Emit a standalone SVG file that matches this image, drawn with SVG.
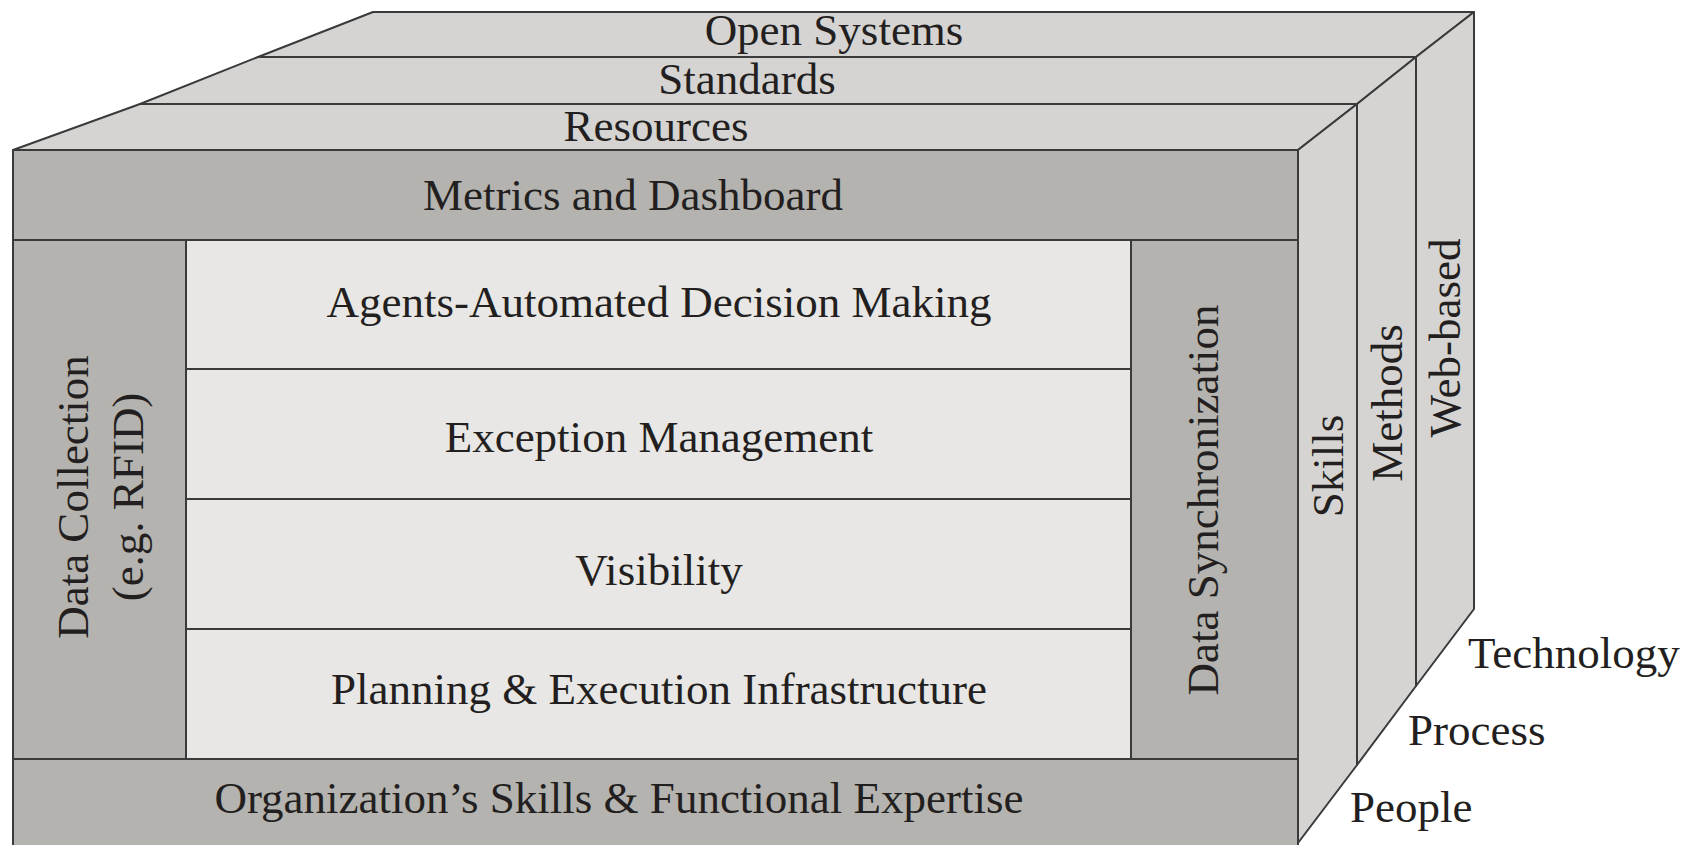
<svg xmlns="http://www.w3.org/2000/svg" width="1687" height="845" viewBox="0 0 1687 845">
<style>
.top{fill:#d5d4d2;stroke:#3a3a3a;stroke-width:2;stroke-linejoin:round}
.side{fill:#d5d4d2;stroke:#3a3a3a;stroke-width:2;stroke-linejoin:round}
.dark{fill:#b4b3af;stroke:#3a3a3a;stroke-width:2}
.light{fill:#e8e7e5;stroke:#3a3a3a;stroke-width:2}
text{font-family:"Liberation Serif","DejaVu Serif",serif;font-size:45px;fill:#231f20}
.c{text-anchor:middle}
</style>
<rect width="1687" height="845" fill="#ffffff"/>
<g id="open-systems"><polygon class="top" points="373,12 1474,12 1416,57 258,57"/><text class="c" x="834" y="45">Open Systems</text></g>
<g id="standards"><polygon class="top" points="258,57 1416,57 1357,104 140,104"/><text class="c" x="747" y="94">Standards</text></g>
<g id="resources"><polygon class="top" points="140,104 1357,104 1298,150 13,150"/><text class="c" x="656" y="141">Resources</text></g>
<g id="skills"><polygon class="side" points="1298,150 1357,104 1357,765 1298,843"/><text class="c" transform="translate(1343,466) rotate(-90)">Skills</text></g>
<g id="methods"><polygon class="side" points="1357,104 1416,57 1416,686 1357,765"/><text class="c" transform="translate(1402,403) rotate(-90)">Methods</text></g>
<g id="web-based"><polygon class="side" points="1416,57 1474,12 1474,609 1416,686"/><text class="c" transform="translate(1460,338) rotate(-90)">Web-based</text></g>
<g id="metrics"><rect class="dark" x="13" y="150" width="1285" height="90"/><text class="c" x="633" y="210">Metrics and Dashboard</text></g>
<g id="data-collection"><rect class="dark" x="13" y="240" width="173" height="519"/><text class="c" transform="translate(88,497) rotate(-90)">Data Collection</text><text class="c" transform="translate(143,497) rotate(-90)">(e.g. RFID)</text></g>
<g id="data-sync"><rect class="dark" x="1131" y="240" width="167" height="519"/><text class="c" transform="translate(1218,500) rotate(-90)">Data Synchronization</text></g>
<g id="agents"><rect class="light" x="186" y="240" width="945" height="129"/><text class="c" x="659" y="317">Agents-Automated Decision Making</text></g>
<g id="exception"><rect class="light" x="186" y="369" width="945" height="130"/><text class="c" x="659" y="452">Exception Management</text></g>
<g id="visibility"><rect class="light" x="186" y="499" width="945" height="130"/><text class="c" x="659" y="585">Visibility</text></g>
<g id="planning"><rect class="light" x="186" y="629" width="945" height="130"/><text class="c" x="659" y="704">Planning &amp; Execution Infrastructure</text></g>
<g id="organization"><rect class="dark" x="13" y="759" width="1285" height="90"/><text class="c" x="619" y="813">Organization’s Skills &amp; Functional Expertise</text></g>
<g id="connectors"></g>
<g id="labels">
<text x="1468" y="668">Technology</text>
<text x="1408" y="745">Process</text>
<text x="1350" y="822">People</text>
</g>
</svg>
